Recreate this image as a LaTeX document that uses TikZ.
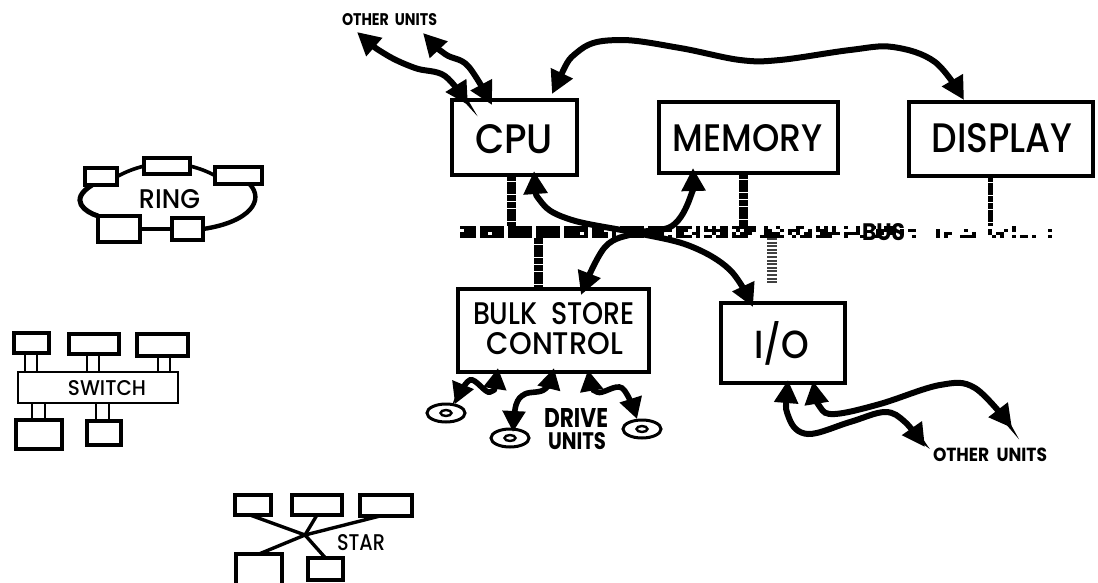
\documentclass[tikz,border=0pt]{standalone}
\usepackage{graphicx}
\usepackage{fontspec}
\setmainfont{Poppins Medium}[BoldFont={Poppins Bold}]
\usetikzlibrary{arrows.meta,shapes.geometric}
\newcommand{\lab}[3]{\resizebox{#1pt}{#2pt}{#3}}
\newcommand{\bx}[6][box]{%
  \pgfmathsetmacro{\cxx}{(#3+#5)/2}\pgfmathsetmacro{\cyy}{(#4+#6)/2}%
  \pgfmathsetmacro{\www}{#5-#3}\pgfmathsetmacro{\hhh}{#6-#4}%
  \node[#1,minimum width=\www pt,minimum height=\hhh pt] (#2) at (\cxx,\cyy) {};}
\tikzset{
  box/.style={draw=black,line width=3.6pt,fill=white,inner sep=0pt,outer sep=0pt},
  ln/.style={draw=black,line width=3.6pt},
  thin link/.style={draw=black,line width=2.2pt},
  txt/.style={inner sep=0pt,outer sep=0pt,text=black},
  bigb/.style={draw=black,line width=6pt,{Triangle[length=23pt,width=23pt]}-{Triangle[length=23pt,width=23pt]}},
  wiggle/.style={draw=black,line width=5.6pt,{Triangle[length=21pt,width=22pt]}-{Triangle[length=21pt,width=22pt]}},
  stub/.style={draw=black,line width=9pt,dash pattern=on 6pt off 0.7pt},
  faint stub/.style={draw=black!75,line width=10pt,dash pattern=on 2pt off 1.6pt},
  disc/.style={draw=black,line width=3pt,ellipse,minimum width=38pt,minimum height=18pt,inner sep=0pt},
  hole/.style={draw=black,line width=2.4pt,ellipse,minimum width=11pt,minimum height=6pt,inner sep=0pt}
}
\begin{document}
\begin{tikzpicture}[x=1pt,y=-1pt]
\useasboundingbox (0,0) rectangle (1098,582);
% ---- bus band
\node[inner sep=0pt,minimum width=615pt,minimum height=12pt,outer sep=0pt] (bus) at (767.5,232) {};
\pgfmathsetseed{11}
\foreach \xx in {460,464,...,1072}{
  \pgfmathsetmacro{\pp}{max(0.03,min(0.92,1.15-(\xx-460)/560))}
  \pgfmathtruncatemacro{\gap}{mod(\xx,28)<4 ? 1 : 0}
  \ifnum\gap=0
  \foreach \yy in {226,229,232,235}{
    \pgfmathtruncatemacro{\hit}{rnd<\pp ? 1 : 0}
    \ifnum\hit=1 \fill[black] (\xx,\yy) rectangle (\xx+4,\yy+3); \fi
  }
  \fi
}
% ---- main boxes
\bx{cpu}{452}{100}{577}{175}
\bx{memory}{659}{102}{838}{173}
\bx{display}{909}{102}{1093}{176}
\bx{bulk}{458}{289}{649}{372}
\bx{io}{721}{303}{845}{383}
\node[txt] at (514,139) {\lab{78}{29}{CPU}};
\node[txt] at (748,138) {\lab{150}{27}{MEMORY}};
\node[txt] at (1002,138.5) {\lab{141}{29}{DISPLAY}};
\node[txt] at (554,314) {\lab{162}{22}{BULK\ \ STORE}};
\node[txt] at (555,344) {\lab{136}{22}{CONTROL}};
\node[txt,anchor=base] at (782,358) {\lab{55}{37}{I/O}};
% ---- bus stubs
\coordinate (s1) at (511,0);
\coordinate (s2) at (538,0);
\coordinate (s3) at (743,0);
\coordinate (s4) at (772,0);
\coordinate (s5) at (990,0);
\coordinate (s4e) at (772,283);
\draw[stub] (cpu.south -| s1) -- (bus.north -| s1);
\draw[stub] (bus.south -| s2) -- (bulk.north -| s2);
\draw[stub] (memory.south -| s3) -- (bus.north -| s3);
\draw[faint stub] (bus.south -| s4) -- (s4e);
\draw[stub,line width=5pt] (display.south -| s5) -- (bus.north -| s5);
\node[txt] at (883.5,232.5) {\lab{43}{17}{\bfseries BUS}};
% ---- main data arrows
\coordinate (jn) at (637,233);
\coordinate (tipc) at (534,171);
\coordinate (tipm) at (693,168);
\coordinate (tipb) at (581,295);
\coordinate (tipi) at (753,307);
\coordinate (tipd) at (964,100);
\coordinate (tipt) at (552,94);
\draw[bigb] plot[smooth,tension=0.6] coordinates {(tipc) (542,203) (572,220) (jn) (690,246) (730,270) (tipi)};
\draw[bigb] plot[smooth,tension=0.6] coordinates {(tipm) (690,198) (672,226) (jn) (605,247) (tipb)};
\draw[bigb] plot[smooth,tension=0.6] coordinates {(tipt) (580,50) (620,40) (680,48) (740,60) (780,60) (850,50) (893,47) (935,62) (tipd)};
% ---- other units, top
\coordinate (tipa) at (357,32);
\coordinate (tipe) at (423,33);
\coordinate (tipf) at (468,105);
\coordinate (tipg) at (492,105);
\draw[bigb] plot[smooth,tension=0.6] coordinates {(tipa) (385,54) (415,68) (445,76) (tipf)};
\draw[bigb] plot[smooth,tension=0.6] coordinates {(tipe) (445,54) (468,66) (tipg)};
\node[txt] at (389.5,20) {\lab{95}{12}{\bfseries OTHER\ \ UNITS}};
% ---- other units, bottom
\coordinate (tiph) at (788,380);
\coordinate (tipj) at (813,381);
\coordinate (tipk) at (925,447);
\coordinate (tipl) at (1012,428);
\draw[bigb] plot[smooth,tension=0.6] coordinates {(tiph) (789,418) (808,434) (850,422) (885,412) (905,422) (tipk)};
\draw[bigb] plot[smooth,tension=0.6] coordinates {(tipj) (820,407) (835,414) (880,404) (940,385) (975,388) (tipl)};
\node[txt] at (990,455) {\lab{114}{13.5}{\bfseries OTHER\ \ UNITS}};
% ---- drive units
\node[disc] (d1) at (446,413) {};
\node[disc] (d2) at (510,438) {};
\node[disc] (d3) at (642,429) {};
\node[hole] (d1i) at (446,413) {};
\node[hole] (d2i) at (510,438) {};
\node[hole] (d3i) at (642,429) {};
\coordinate (b1) at (498,368);
\coordinate (b2) at (554,368);
\coordinate (b3) at (588,370);
\coordinate (e1) at (455,404);
\coordinate (e2) at (513,432);
\coordinate (e3) at (637,419);
\draw[wiggle] plot[smooth,tension=0.6] coordinates {(b1) (490,392) (470,380) (e1)};
\draw[wiggle] plot[smooth,tension=0.6] coordinates {(b2) (545,389) (525,394) (516,405) (e2)};
\draw[wiggle] plot[smooth,tension=0.6] coordinates {(b3) (597,392) (622,388) (e3)};
\node[txt] at (576,417.5) {\lab{64}{19}{\bfseries DRIVE}};
\node[txt] at (577,441.5) {\lab{58}{17}{\bfseries UNITS}};
% ---- ring
\coordinate (rr) at (265,200);
\coordinate (rl) at (68,200);
\bx{r1}{85}{168}{117}{185}
\bx{r2}{144}{158}{190}{174}
\bx{r3}{215}{167}{262}{184}
\bx{r4}{98}{216}{140}{242}
\bx{r5}{172}{218}{203}{240}
\draw[ln,line width=4.4pt] ([xshift=11pt]r3.south) .. controls (rr) and (250,222) .. (r5.east);
\draw[ln,line width=5pt] ([xshift=-9pt]r1.south) .. controls (rl) and (85,212) .. (r4.north west);
\draw[ln] (r1.east) to[bend left=6] (r2.west);
\draw[ln] (r2.east) to[bend left=6] (r3.west);
\draw[ln] (r4.east) -- (r5.west);
\node[txt] at (169.5,199.5) {\lab{61}{19}{RING}};
% ---- switch
\bx{s1}{14}{333}{49}{353}
\bx{s2}{69}{334}{119}{354}
\bx{s3}{137}{334}{188}{356}
\bx[box,line width=2.4pt]{sw}{18}{372}{178}{403}
\bx{t1}{16}{420}{62}{449}
\bx{t2}{87}{421}{121}{445}
\foreach \nd/\da/\db in {s1/-6.5/5.5,s2/-7/5,s3/-4.5/7.5}{
  \draw[thin link] ([xshift=\da pt]\nd.south) -- ([xshift=\da pt]\nd.south |- sw.north);
  \draw[thin link] ([xshift=\db pt]\nd.south) -- ([xshift=\db pt]\nd.south |- sw.north);
}
\foreach \nd/\da/\db in {t1/-7/6,t2/-8/5}{
  \draw[thin link] ([xshift=\da pt]\nd.north) -- ([xshift=\da pt]\nd.north |- sw.south);
  \draw[thin link] ([xshift=\db pt]\nd.north) -- ([xshift=\db pt]\nd.north |- sw.south);
}
\node[txt] at (107,388.5) {\lab{78}{15}{SWITCH}};
% ---- star
\coordinate (hub) at (305,535);
\bx{a1}{235}{495}{271}{515}
\bx{a2}{292}{495}{342}{515}
\bx{a3}{360}{495}{412}{516}
\bx{a4}{236}{554}{282}{592}
\bx{a5}{308}{558}{343}{580}
\draw[ln,line width=3.4pt] ([xshift=-3pt]a1.south) -- (hub);
\draw[ln,line width=3.4pt] (a2.south) -- (hub);
\draw[ln,line width=3.4pt] ([xshift=-6pt]a3.south) -- (hub);
\draw[ln,line width=3.4pt] (a4.north) -- (hub);
\draw[ln,line width=3.4pt] (a5.north) -- (hub);
\node[txt] at (361,543) {\lab{48}{16}{STAR}};
\end{tikzpicture}
\end{document}
